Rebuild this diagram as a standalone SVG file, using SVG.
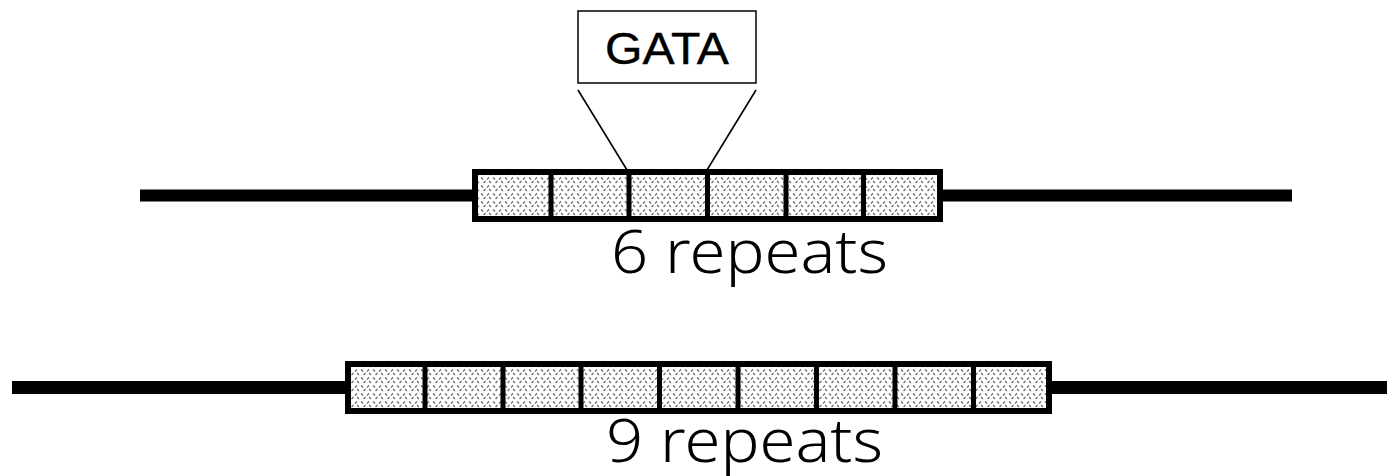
<svg xmlns="http://www.w3.org/2000/svg" width="1387" height="476" viewBox="0 0 1387 476">
  <style>
    .strand { stroke: #000; stroke-width: 12; fill: none; }
    .block { fill: url(#stipple); stroke: #000; stroke-width: 6; }
    .div { stroke: #000; stroke-width: 5; }
    .callout { fill: #fff; stroke: #000; stroke-width: 1.5; }
    .lead { stroke: #000; stroke-width: 1.6; fill: none; }
    .motif { font-family: "Liberation Sans", Arial, sans-serif; font-size: 45px; fill: #000; stroke: #000; stroke-width: 0.4px; }
    .count { font-family: "Noto Sans", "DejaVu Sans", sans-serif; font-weight: 300; font-size: 61px; fill: #000; }
  </style>
  <defs>
    <!-- stippled repeat-unit fill -->
    <pattern id="stipple" width="12" height="8" patternUnits="userSpaceOnUse">
      <rect width="12" height="8" fill="#fff"/>
      <path d="M1,1.5 l2,2 M7,3.5 l2,-2 M3.5,7 l2,-2 M9,5 l2,2" stroke="#6a6a6a" stroke-width="1.3" fill="none"/>
    </pattern>
  </defs>

  <g id="strand-6">
    <line class="strand" x1="140" y1="195.5" x2="1292" y2="195.5"/>
    <rect class="block" x="475" y="172" width="465" height="47"/>
    <line class="div" x1="551" y1="172" x2="551" y2="219"/>
    <line class="div" x1="629" y1="172" x2="629" y2="219"/>
    <line class="div" x1="707.5" y1="172" x2="707.5" y2="219"/>
    <line class="div" x1="786" y1="172" x2="786" y2="219"/>
    <line class="div" x1="863.5" y1="172" x2="863.5" y2="219"/>
  </g>

  <g id="label-6">
    <text class="count" x="611" y="273" textLength="277" lengthAdjust="spacingAndGlyphs">6 repeats</text>
  </g>

  <g id="gata-box">
    <rect class="callout" x="578" y="11" width="178" height="72"/>
    <text class="motif" x="667" y="64" text-anchor="middle" textLength="124" lengthAdjust="spacingAndGlyphs">GATA</text>
  </g>

  <g id="connectors">
    <line class="lead" x1="578" y1="90" x2="627" y2="170"/>
    <line class="lead" x1="756" y1="90" x2="707" y2="170"/>
  </g>

  <g id="strand-9">
    <line class="strand" x1="12" y1="387.5" x2="1387" y2="387.5" style="stroke-width:13"/>
    <rect class="block" x="348" y="364" width="701" height="47"/>
    <line class="div" x1="425" y1="364" x2="425" y2="411"/>
    <line class="div" x1="503" y1="364" x2="503" y2="411"/>
    <line class="div" x1="581" y1="364" x2="581" y2="411"/>
    <line class="div" x1="659.5" y1="364" x2="659.5" y2="411"/>
    <line class="div" x1="738" y1="364" x2="738" y2="411"/>
    <line class="div" x1="816.5" y1="364" x2="816.5" y2="411"/>
    <line class="div" x1="895" y1="364" x2="895" y2="411"/>
    <line class="div" x1="973.5" y1="364" x2="973.5" y2="411"/>
  </g>

  <g id="label-9">
    <text class="count" x="606" y="462" textLength="277" lengthAdjust="spacingAndGlyphs">9 repeats</text>
  </g>
</svg>
